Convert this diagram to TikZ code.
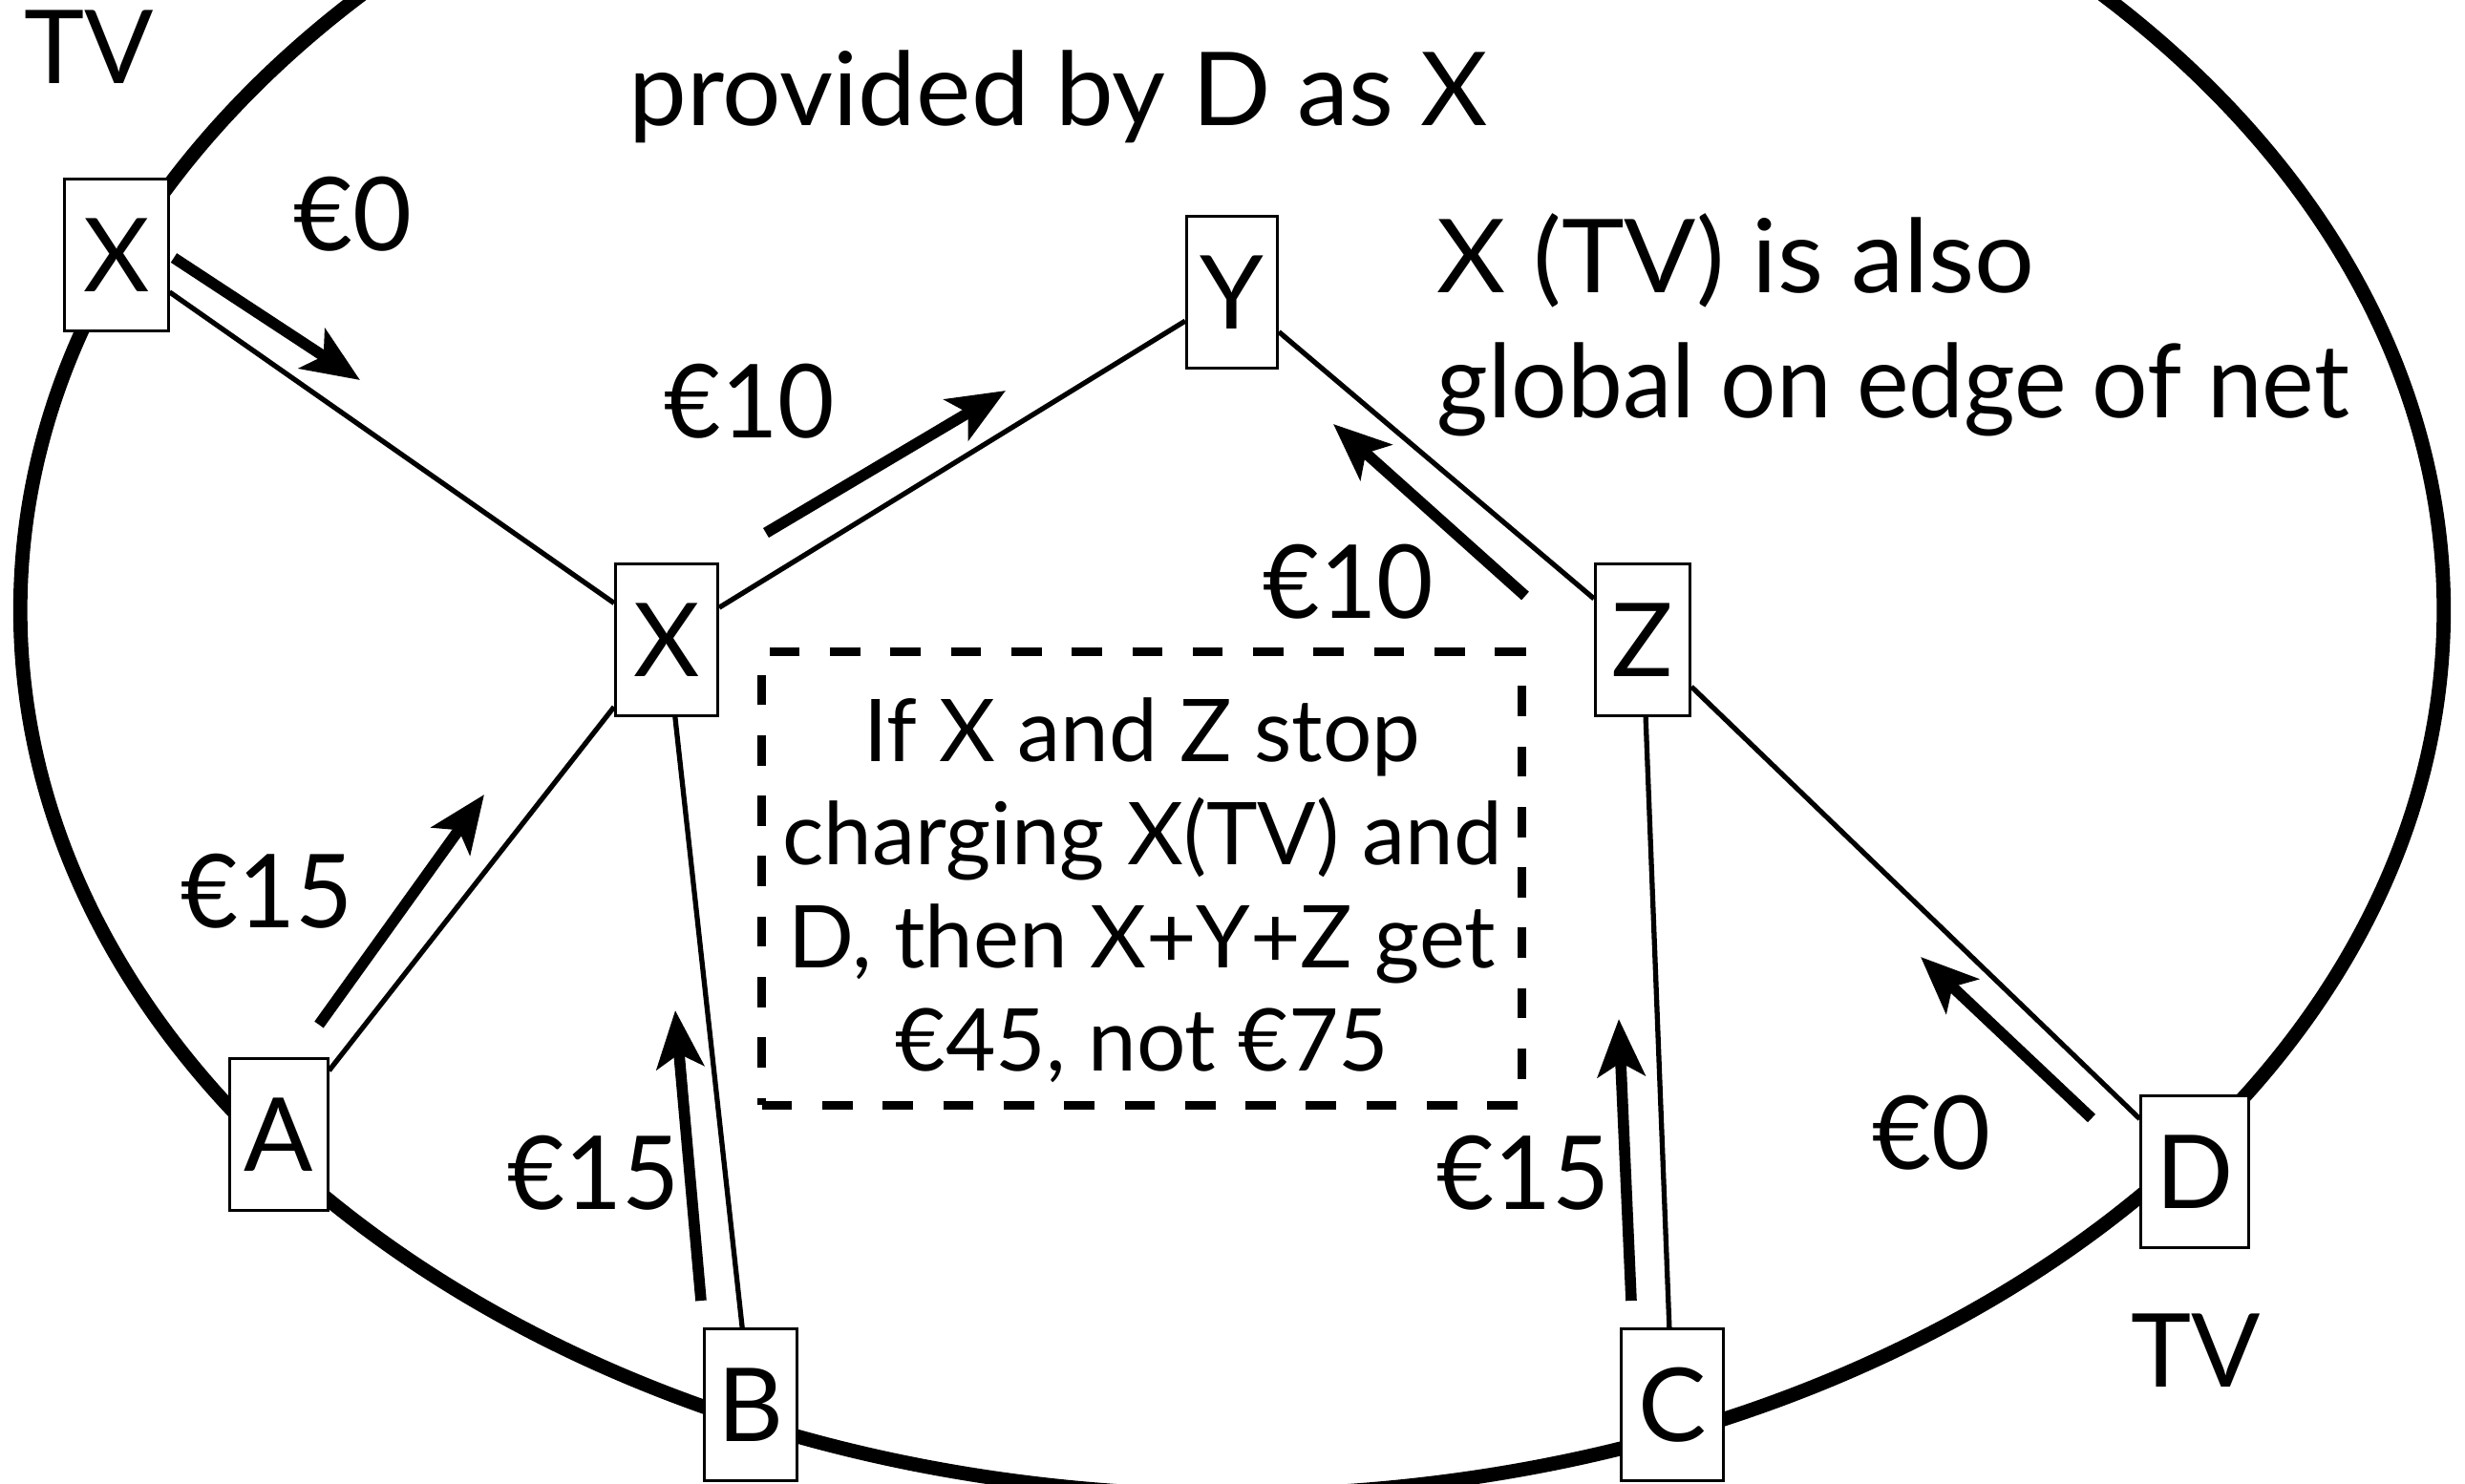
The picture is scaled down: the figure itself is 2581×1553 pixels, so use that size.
\documentclass[tikz,border=0pt]{standalone}
\usepackage{fontspec}
\setmainfont{Lato}
\usetikzlibrary{arrows.meta}
\newcommand\bigfont{\fontsize{30.4}{37}\selectfont}
\newcommand\boxfont{\fontsize{25.8}{30.7}\selectfont}
\tikzset{
  box/.style={draw, line width=0.85pt, fill=white, inner sep=0pt, minimum height=1.58cm, font=\bigfont},
  edge/.style={line width=1.5pt},
  flow/.style={line width=3.3pt, -{Stealth[length=17pt,width=14pt,inset=4pt]}},
  lbl/.style={font=\bigfont, inner sep=0pt, anchor=base west},
}
\begin{document}
\begin{tikzpicture}[x=0.01cm,y=-0.01cm]
\useasboundingbox (0,0) rectangle (2581,1553);
\clip (0,0) rectangle (2581,1553);
% network boundary
\draw[line width=4.2pt] (1290,639) ellipse [x radius=12.68cm, y radius=9.26cm];
% nodes
\node[box, minimum width=1.08cm] (x1) at (122,267) {X};
\node[box, minimum width=0.95cm] (y) at (1290,306) {Y};
\node[box, minimum width=1.07cm] (xm) at (698,670) {X};
\node[box, minimum width=0.99cm] (z) at (1720,670) {Z};
\node[box, minimum width=1.02cm] (a) at (292,1188) {A};
\node[box, minimum width=0.96cm] (b) at (786,1471) {B};
\node[box, minimum width=1.07cm] (c) at (1751,1471) {C};
\node[box, minimum width=1.12cm] (d) at (2298,1227) {D};
% edges
\draw[edge] (x1) -- (xm);
\draw[edge] (xm) -- (y);
\draw[edge] (y) -- (z);
\draw[edge] (z) -- (d);
\draw[edge] (xm) -- (a);
\draw[edge] (xm) -- (b);
\draw[edge] (z) -- (c);
% payment arrows
\coordinate (f1s) at (182,270);  \coordinate (f1e) at (377,398);
\coordinate (f2s) at (802,558);  \coordinate (f2e) at (1053,409);
\coordinate (f3s) at (1597,624); \coordinate (f3e) at (1396,444);
\coordinate (f4s) at (334,1073); \coordinate (f4e) at (507,832);
\coordinate (f5s) at (734,1362); \coordinate (f5e) at (707,1058);
\coordinate (f6s) at (1708,1362);\coordinate (f6e) at (1695,1067);
\coordinate (f7s) at (2190,1171);\coordinate (f7e) at (2011,1002);
\draw[flow] (f1s) -- (f1e);
\draw[flow] (f2s) -- (f2e);
\draw[flow] (f3s) -- (f3e);
\draw[flow] (f4s) -- (f4e);
\draw[flow] (f5s) -- (f5e);
\draw[flow] (f6s) -- (f6e);
\draw[flow] (f7s) -- (f7e);
% labels
\node[lbl] (tv1) at (25,87) {TV};
\node[lbl] (tv2) at (2231,1452) {TV};
\node[lbl] (l0a) at (307,262) {€0};
\node[lbl] (l10a) at (695,458) {\scalebox{0.96}[1]{€10}};
\node[lbl] (l10b) at (1322,647) {\scalebox{0.96}[1]{€10}};
\node[lbl] (l15a) at (189,971) {\scalebox{0.97}[1]{€15}};
\node[lbl] (l15b) at (531,1266) {\scalebox{0.97}[1]{€15}};
\node[lbl] (l15c) at (1504,1266) {\scalebox{0.97}[1]{€15}};
\node[lbl] (l0b) at (1960,1224) {€0};
\node[lbl] (top) at (658,131) {\scalebox{1.015}[1]{provided by D as X}};
\node[lbl, align=left] (note2) at (1504,437)
  {\scalebox{1.04}[1]{X (TV) is also}\\\scalebox{0.967}[1]{global on edge of net}};
% note box
\node[draw, dash pattern=on 9pt off 9pt, line width=2.6pt, minimum width=7.95cm, minimum height=4.74cm,
      inner sep=0pt] (note) at (1195.5,920) {};
\node[align=center, font=\boxfont, inner sep=0pt] (notetext) at (1196,932)
  {If X and Z stop\\charging X(TV) and\\D, then X+Y+Z get\\€45, not €75};
\end{tikzpicture}
\end{document}
